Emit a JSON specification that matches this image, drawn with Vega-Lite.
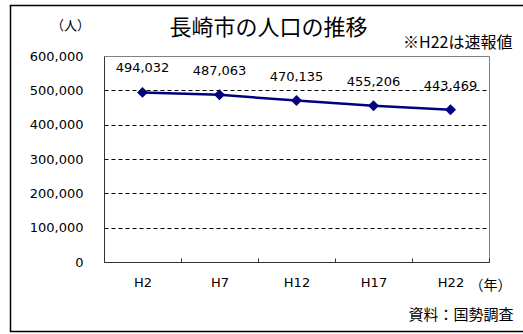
{
  "$schema": "https://vega.github.io/schema/vega-lite/v6.json",
  "width": 385,
  "height": 206,
  "autosize": {"type": "none"},
  "padding": {"left": 104, "top": 56, "right": 34, "bottom": 72},
  "background": "white",
  "config": {
    "view": {"stroke": "#808080", "strokeWidth": 1},
    "font": "Noto Sans CJK JP",
    "axis": {
      "labelFont": "DejaVu Sans",
      "labelFontSize": 13,
      "labelColor": "black",
      "domainColor": "#333333",
      "titleFont": "Noto Sans CJK JP",
      "titleFontWeight": "normal",
      "titleColor": "black"
    }
  },
  "title": {
    "text": "長崎市の人口の推移",
    "font": "Noto Sans CJK JP",
    "fontSize": 22,
    "fontWeight": "normal",
    "color": "black",
    "anchor": "middle",
    "frame": "group",
    "baseline": "middle",
    "dx": -28,
    "dy": 49
  },
  "datasets": {
    "population": [
      {"year": "H2", "pop": 494032},
      {"year": "H7", "pop": 487063},
      {"year": "H12", "pop": 470135},
      {"year": "H17", "pop": 455206},
      {"year": "H22", "pop": 443469}
    ]
  },
  "encoding": {
    "x": {
      "field": "year",
      "type": "nominal",
      "sort": null,
      "scale": {"type": "band", "domain": ["H2", "H7", "H12", "H17", "H22"], "paddingInner": 0, "paddingOuter": 0},
      "axis": {
        "title": "（年）",
        "titleFontSize": 14,
        "titleX": 386,
        "titleY": 23,
        "titleAlign": "center",
        "titleBaseline": "middle",
        "labelAngle": 0,
        "labelPadding": 18,
        "tickBand": "extent",
        "tickSize": -4,
        "tickColor": "#333333",
        "grid": false
      }
    },
    "y": {
      "field": "pop",
      "type": "quantitative",
      "scale": {"domain": [0, 600000], "nice": false},
      "axis": {
        "title": "（人）",
        "titleFontSize": 13,
        "titleAngle": 0,
        "titleX": -34,
        "titleY": -31,
        "titleAlign": "center",
        "titleBaseline": "middle",
        "values": [0, 100000, 200000, 300000, 400000, 500000, 600000],
        "labelExpr": "format(datum.value, ',')",
        "ticks": false,
        "tickSize": 0,
        "labelPadding": 21,
        "grid": true,
        "gridDash": [4, 3],
        "gridColor": {"condition": {"test": "datum.value === 600000 || datum.value === 0", "value": "transparent"}, "value": "black"}
      }
    }
  },
  "layer": [
    {
      "data": {"values": [{"box": "outer"}]},
      "mark": {"type": "rect", "fill": null, "stroke": "black", "strokeWidth": 1.5, "clip": false},
      "encoding": {
        "x": {"value": -93.5},
        "x2": {"value": 430},
        "y": {"value": -50.5},
        "y2": {"value": 275.5}
      }
    },
    {
      "data": {"name": "population"},
      "mark": {"type": "line", "color": "#000080", "strokeWidth": 2.5}
    },
    {
      "data": {"name": "population"},
      "mark": {"type": "point", "shape": "diamond", "filled": true, "size": 120, "color": "#000080", "opacity": 1}
    },
    {
      "data": {"name": "population"},
      "mark": {"type": "text", "font": "DejaVu Sans", "fontSize": 13, "color": "black", "baseline": "middle", "dy": -24},
      "encoding": {"text": {"field": "pop", "type": "quantitative", "format": ","}}
    },
    {
      "data": {"values": [{"note": "※H22は速報値", "year": "H22", "pop": 600000}]},
      "mark": {"type": "text", "fontSize": 16, "color": "black", "align": "right", "baseline": "middle", "dx": 62, "dy": -13, "clip": false},
      "encoding": {"text": {"field": "note"}}
    },
    {
      "data": {"values": [{"note": "資料：国勢調査", "year": "H22", "pop": 0}]},
      "mark": {"type": "text", "fontSize": 15, "color": "black", "align": "right", "baseline": "middle", "dx": 63, "dy": 53, "clip": false},
      "encoding": {"text": {"field": "note"}}
    }
  ]
}
